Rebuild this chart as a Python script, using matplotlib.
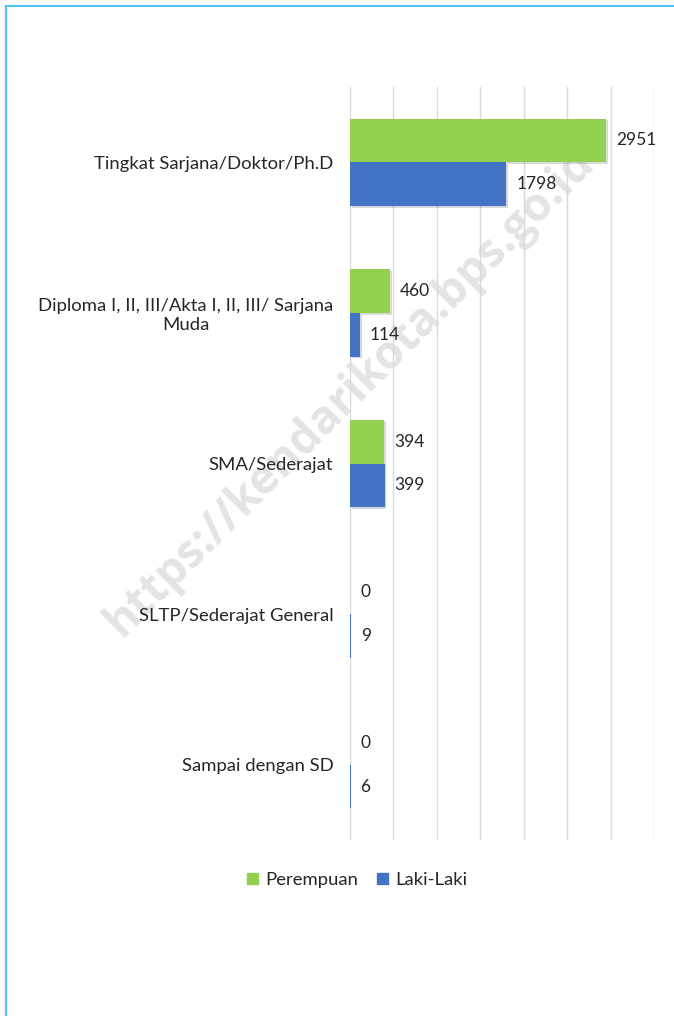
import numpy as np
import matplotlib
matplotlib.use("Agg")
import matplotlib.pyplot as plt
import matplotlib.patheffects as pe
from matplotlib.lines import Line2D
from matplotlib.patches import Patch

plt.rcParams['font.family'] = ['Lato', 'DejaVu Sans']

# data (top to bottom as shown in the chart)
categories = ["Tingkat Sarjana/Doktor/Ph.D",
              "Diploma I, II, III/Akta I, II, III/ Sarjana\nMuda",
              "SMA/Sederajat",
              "SLTP/Sederajat General",
              "Sampai dengan SD"]
perempuan = [2951, 460, 394, 0, 0]
laki_laki = [1798, 114, 399, 9, 6]

green = "#92D050"
blue = "#4472C4"

fig = plt.figure(figsize=(6.74, 10.16), dpi=100)
ax = fig.add_axes([350/674, 1 - 840/1016, 304/674, 753/1016])
ax.patch.set_visible(False)

n = len(categories)
y = np.arange(n)[::-1]
h = 0.29
shadow = [pe.SimplePatchShadow(offset=(1.2, -1.2), alpha=0.18), pe.Normal()]

b1 = ax.barh(y + h/2, perempuan, height=h, color=green, zorder=3)
b2 = ax.barh(y - h/2, laki_laki, height=h, color=blue, zorder=3)
for bar in list(b1) + list(b2):
    if bar.get_width() > 0:
        bar.set_path_effects(shadow)

for bars, vals in [(b1, perempuan), (b2, laki_laki)]:
    for bar, v in zip(bars, vals):
        ax.annotate(str(v), (bar.get_width(), bar.get_y() + bar.get_height()/2),
                    xytext=(10, 0), textcoords="offset pixels",
                    ha="left", va="center", fontsize=12.5, color="#262626")

ax.set_xlim(0, 3500)
ax.set_ylim(-0.5, n - 0.5)
ax.set_xticks(np.arange(0, 3501, 500))
ax.set_xticklabels([])
ax.tick_params(axis="x", length=0)
ax.tick_params(axis="y", length=0, pad=12)
ax.set_yticks(y)
ax.set_yticklabels(categories, fontsize=13.3, color="#262626", multialignment="center")
ax.grid(axis="x", color="#d9d9d9", linewidth=1, zorder=0)
ax.set_axisbelow(True)
for s in ax.spines.values():
    s.set_visible(False)

handles = [Patch(color=green, label="Perempuan"), Patch(color=blue, label="Laki-Laki")]
fig.legend(handles=handles, loc="center", bbox_to_anchor=(357/674, 1 - 880/1016),
           ncol=2, frameon=False, fontsize=13.3, handlelength=0.6, handleheight=0.6,
           handletextpad=0.4, columnspacing=1.0, labelcolor="#262626")

# watermark
fig.text(350/674, 1 - 392/1016, "https://kendarikota.bps.go.id", rotation=45,
         ha="center", va="center", fontsize=33, fontweight="bold",
         color="#e4e4e4", zorder=-1, family=["Open Sans", "DejaVu Sans"])

# page border
fig.add_artist(Line2D([6/674, 6/674], [0, 1 - 6/1016], color="#4fc3f7", lw=1.5))
fig.add_artist(Line2D([6/674, 1], [1 - 6/1016, 1 - 6/1016], color="#4fc3f7", lw=1.5))

fig.savefig("out.png", dpi=100)
